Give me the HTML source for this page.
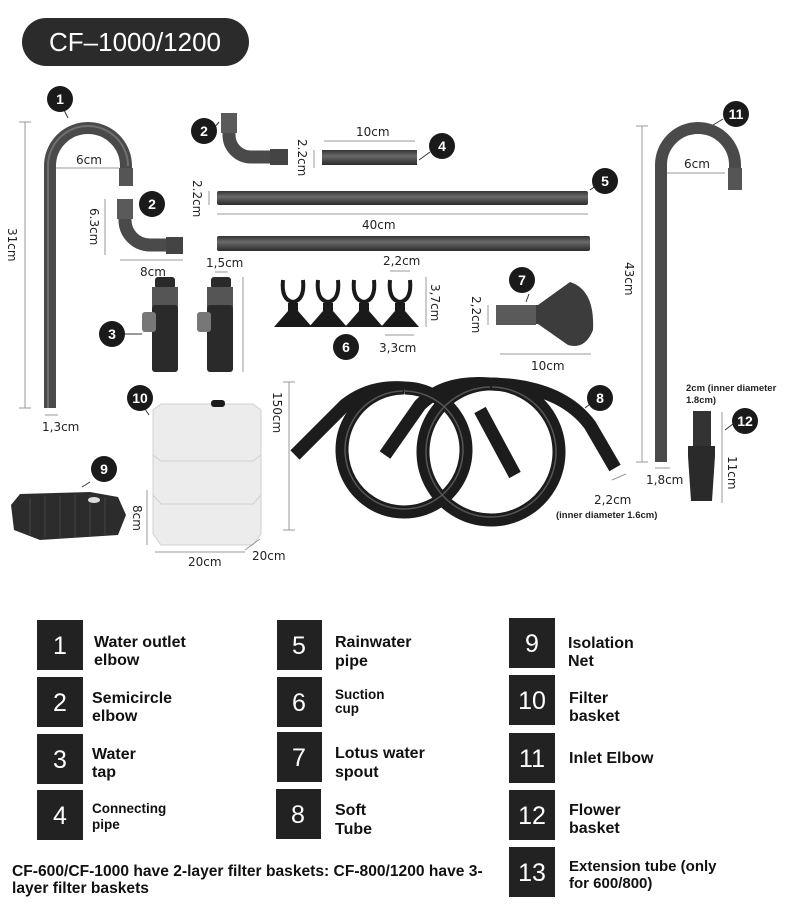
<!DOCTYPE html>
<html><head><meta charset="utf-8"><style>
html,body{margin:0;padding:0;background:#fff}
svg{display:block}
.t{font-family:"DejaVu Sans","Liberation Sans",sans-serif;font-size:12px;fill:#222}
.n{font-family:"Liberation Sans",sans-serif;font-weight:bold;font-size:14px;fill:#fff;text-anchor:middle}
.L{font-family:"Liberation Sans Narrow","Liberation Sans",sans-serif;font-weight:bold;fill:#111}
.B{font-family:"Liberation Sans Narrow","Liberation Sans",sans-serif;fill:#fff;text-anchor:middle;font-size:25px}
.d{stroke:#999;stroke-width:1;fill:none}
</style></head><body>
<svg width="790" height="911" viewBox="0 0 790 911" xmlns="http://www.w3.org/2000/svg">
<defs>
<linearGradient id="pv" x1="0" x2="1" y1="0" y2="0"><stop offset="0" stop-color="#3a3a3a"/><stop offset=".4" stop-color="#777"/><stop offset="1" stop-color="#333"/></linearGradient>
<linearGradient id="ph" x1="0" x2="0" y1="0" y2="1"><stop offset="0" stop-color="#333"/><stop offset=".4" stop-color="#6a6a6a"/><stop offset="1" stop-color="#2a2a2a"/></linearGradient>
</defs>
<rect width="790" height="911" fill="#fff"/>
<!-- title -->
<rect x="22" y="18" width="227" height="48" rx="24" fill="#2b2b2b"/>
<text x="135" y="51" fill="#fff" font-family="Liberation Sans,sans-serif" font-size="26" text-anchor="middle">CF–1000/1200</text>

<!-- pipe 1 -->
<path d="M50 408 V166 A38 38 0 0 1 126 166 V180" stroke="#4a4a4a" stroke-width="12" fill="none"/>
<path d="M48 408 V166 A40 40 0 0 1 128 166" stroke="#888" stroke-width="2" fill="none" opacity=".6"/>
<rect x="119" y="168" width="14" height="18" fill="#555"/>
<line x1="25" y1="122" x2="25" y2="408" class="d"/><line x1="19" y1="122" x2="31" y2="122" class="d"/><line x1="19" y1="408" x2="31" y2="408" class="d"/>
<text class="t" transform="translate(8,228) rotate(90)">31cm</text>
<line x1="56" y1="168" x2="119" y2="168" class="d"/><text class="t" x="76" y="164">6cm</text>
<line x1="45" y1="415" x2="58" y2="415" class="d"/><text class="t" x="42" y="431">1,3cm</text>
<line x1="68" y1="118" x2="63" y2="108" stroke="#333"/>
<circle cx="60" cy="99" r="13" fill="#1a1a1a"/><text class="n" x="60" y="104">1</text>

<!-- elbow 2 small -->
<path d="M125 205 V220 A25 25 0 0 0 150 245 H180" stroke="#4a4a4a" stroke-width="13" fill="none"/>
<rect x="117" y="199" width="16" height="20" fill="#5a5a5a"/><rect x="166" y="237" width="17" height="17" fill="#444"/>
<line x1="105" y1="199" x2="105" y2="255" class="d"/><text class="t" transform="translate(90,208) rotate(90)">6.3cm</text>
<line x1="120" y1="260" x2="183" y2="260" class="d"/><text class="t" x="140" y="276">8cm</text>
<circle cx="152" cy="204" r="13" fill="#1a1a1a"/><text class="n" x="152" y="209">2</text>

<!-- elbow 2 top -->
<path d="M229 118 V135 A22 22 0 0 0 251 157 H285" stroke="#4a4a4a" stroke-width="13" fill="none"/>
<rect x="221" y="113" width="16" height="20" fill="#5a5a5a"/><rect x="270" y="149" width="18" height="16" fill="#444"/>
<line x1="219" y1="122" x2="214" y2="128" stroke="#333"/>
<circle cx="204" cy="131" r="13" fill="#1a1a1a"/><text class="n" x="204" y="136">2</text>

<!-- pipe 4 -->
<line x1="314" y1="150" x2="314" y2="168" class="d"/><text class="t" transform="translate(298,139) rotate(90)">2.2cm</text>
<line x1="324" y1="141" x2="415" y2="141" class="d"/><text class="t" x="356" y="136">10cm</text>
<rect x="322" y="150" width="95" height="15" fill="url(#ph)"/>
<line x1="419" y1="160" x2="430" y2="152" stroke="#333"/>
<circle cx="442" cy="146" r="13" fill="#1a1a1a"/><text class="n" x="442" y="151">4</text>

<!-- pipe 5 -->
<rect x="217" y="191" width="371" height="14" rx="2" fill="url(#ph)"/>
<rect x="217" y="236" width="373" height="15" rx="2" fill="url(#ph)"/>
<line x1="209" y1="191" x2="209" y2="205" class="d"/><text class="t" transform="translate(193,180) rotate(90)">2.2cm</text>
<line x1="217" y1="214" x2="588" y2="214" class="d"/><text class="t" x="362" y="229">40cm</text>
<line x1="590" y1="190" x2="597" y2="185" stroke="#333"/>
<circle cx="605" cy="181" r="13" fill="#1a1a1a"/><text class="n" x="605" y="186">5</text>

<!-- taps 3 -->
<g fill="#2a2a2a">
<rect x="155" y="277" width="20" height="12" rx="3"/><rect x="152" y="287" width="26" height="20" fill="#555"/><rect x="152" y="305" width="26" height="67" rx="3"/><rect x="142" y="312" width="14" height="20" rx="3" fill="#777"/>
<rect x="211" y="277" width="20" height="12" rx="3"/><rect x="207" y="287" width="26" height="20" fill="#555"/><rect x="207" y="305" width="26" height="67" rx="3"/><rect x="197" y="312" width="14" height="20" rx="3" fill="#777"/>
</g>
<text class="t" x="206" y="267">1,5cm</text><line x1="215" y1="272" x2="228" y2="272" class="d"/>
<line x1="243" y1="277" x2="243" y2="372" class="d"/>
<line x1="125" y1="334" x2="142" y2="334" stroke="#333"/>
<circle cx="112" cy="334" r="13" fill="#1a1a1a"/><text class="n" x="112" y="339">3</text>

<!-- suction cups 6 -->
<g fill="none" stroke="#1a1a1a" stroke-width="4">
<path d="M283 280 Q281 300 293 302 Q305 300 303 280"/><path d="M318 280 Q316 300 328 302 Q340 300 338 280"/><path d="M354 280 Q352 300 364 302 Q376 300 374 280"/><path d="M390 280 Q388 300 400 302 Q412 300 410 280"/>
</g>
<g fill="#1a1a1a">
<path d="M288 303 h10 v8 l14 16 h-38 l14 -16z"/><path d="M323 303 h10 v8 l14 16 h-38 l14 -16z"/><path d="M359 303 h10 v8 l14 16 h-38 l14 -16z"/><path d="M395 303 h10 v8 l14 16 h-38 l14 -16z"/>
</g>
<text class="t" x="383" y="265">2,2cm</text><line x1="390" y1="271" x2="410" y2="271" class="d"/>
<line x1="426" y1="277" x2="426" y2="327" class="d"/><text class="t" transform="translate(431,284) rotate(90)">3,7cm</text>
<line x1="385" y1="335" x2="414" y2="335" class="d"/><text class="t" x="379" y="352">3,3cm</text>
<circle cx="346" cy="347" r="13" fill="#1a1a1a"/><text class="n" x="346" y="352">6</text>

<!-- lotus 7 -->
<path d="M497 305 H538 L570 282 Q595 290 593 330 Q585 350 568 345 L538 324 H497 Z" fill="#3c3c3c"/>
<rect x="496" y="305" width="40" height="20" fill="#5a5a5a"/>
<line x1="488" y1="305" x2="488" y2="325" class="d"/><text class="t" transform="translate(472,296) rotate(90)">2,2cm</text>
<line x1="500" y1="354" x2="591" y2="354" class="d"/><text class="t" x="531" y="370">10cm</text>
<line x1="529" y1="294" x2="526" y2="302" stroke="#333"/>
<circle cx="522" cy="280" r="13" fill="#1a1a1a"/><text class="n" x="522" y="285">7</text>

<!-- pipe 11 -->
<path d="M661 462 V165 A37 37 0 0 1 735 165 V185" stroke="#4a4a4a" stroke-width="12" fill="none"/>
<rect x="728" y="168" width="14" height="22" fill="#555"/>
<line x1="642" y1="126" x2="642" y2="462" class="d"/><line x1="636" y1="126" x2="648" y2="126" class="d"/><line x1="636" y1="462" x2="648" y2="462" class="d"/>
<text class="t" transform="translate(625,262) rotate(90)">43cm</text>
<line x1="667" y1="173" x2="725" y2="173" class="d"/><text class="t" x="684" y="168">6cm</text>
<line x1="655" y1="468" x2="670" y2="468" class="d"/><text class="t" x="646" y="484">1,8cm</text>
<line x1="713" y1="125" x2="723" y2="119" stroke="#333"/>
<circle cx="736" cy="114" r="13" fill="#1a1a1a"/><text class="n" x="736" y="119">11</text>

<!-- 12 -->
<rect x="693" y="411" width="18" height="35" fill="#333"/>
<path d="M688 446 h27 v10 l-3 45 h-21 l-3 -45z" fill="#2a2a2a"/>
<text x="686" y="391" font-family="Liberation Sans,sans-serif" font-weight="bold" font-size="9.5" fill="#222">2cm (inner diameter</text>
<text x="686" y="403" font-family="Liberation Sans,sans-serif" font-weight="bold" font-size="9.5" fill="#222">1.8cm)</text>
<line x1="722" y1="412" x2="722" y2="503" class="d"/><text class="t" transform="translate(728,456) rotate(90)">11cm</text>
<line x1="725" y1="430" x2="733" y2="424" stroke="#333"/>
<circle cx="745" cy="421" r="13" fill="#1a1a1a"/><text class="n" x="745" y="426">12</text>

<!-- tube 8 -->
<g fill="none" stroke="#1c1c1c" stroke-width="13" stroke-linecap="butt">
<path d="M295 455 L345 405 Q370 385 405 388"/>
<path d="M405 388 A62 62 0 1 1 403 388"/>
<path d="M385 455 L420 405 Q445 380 490 384"/>
<path d="M492 384 A68 68 0 1 1 490 384"/>
<path d="M480 410 L515 475"/>
<path d="M490 384 Q560 385 590 425 L615 468"/>
</g>
<g fill="none" stroke="#555" stroke-width="1.5">
<path d="M405 391 A59 59 0 1 1 403 391"/><path d="M492 387 A65 65 0 1 1 490 387"/>
</g>
<line x1="289" y1="382" x2="289" y2="530" class="d"/><line x1="283" y1="382" x2="295" y2="382" class="d"/><line x1="283" y1="530" x2="295" y2="530" class="d"/>
<text class="t" transform="translate(273,392) rotate(90)">150cm</text>
<line x1="612" y1="480" x2="626" y2="474" class="d"/>
<text class="t" x="594" y="504">2,2cm</text>
<text x="556" y="518" font-family="Liberation Sans,sans-serif" font-weight="bold" font-size="9.5" fill="#222">(inner diameter 1.6cm)</text>
<line x1="585" y1="408" x2="590" y2="404" stroke="#333"/>
<circle cx="600" cy="398" r="13" fill="#1a1a1a"/><text class="n" x="600" y="403">8</text>

<!-- filter basket 10 -->
<g fill="#ececec" stroke="#d0d0d0">
<path d="M153 492 h108 v42 l-8 11 h-92 l-8 -11z"/>
<path d="M153 455 h108 v40 l-8 9 h-92 l-8 -9z"/>
<path d="M153 410 l8 -6 h92 l8 6 v45 l-8 6 h-92 l-8 -6z"/>
</g>
<rect x="211" y="400" width="14" height="7" rx="3" fill="#1a1a1a"/>
<line x1="147" y1="490" x2="147" y2="545" class="d"/><text class="t" transform="translate(133,505) rotate(90)">8cm</text>
<line x1="155" y1="552" x2="245" y2="552" class="d"/><line x1="245" y1="550" x2="260" y2="539" class="d"/>
<text class="t" x="188" y="566">20cm</text><text class="t" x="252" y="560">20cm</text>
<line x1="149" y1="415" x2="145" y2="409" stroke="#333"/>
<circle cx="140" cy="398" r="13" fill="#1a1a1a"/><text class="n" x="140" y="403">10</text>

<!-- net 9 -->
<path d="M20 494 L90 492 L118 497 L126 515 L118 535 L40 540 L14 530 L11 505Z" fill="#2c2c2c"/>
<g stroke="#444" stroke-width="1"><line x1="30" y1="498" x2="30" y2="535"/><line x1="45" y1="496" x2="45" y2="537"/><line x1="60" y1="496" x2="60" y2="537"/><line x1="75" y1="495" x2="75" y2="537"/><line x1="90" y1="495" x2="90" y2="536"/><line x1="105" y1="497" x2="105" y2="535"/></g>
<ellipse cx="94" cy="500" rx="6" ry="3" fill="#ddd"/>
<line x1="82" y1="487" x2="90" y2="482" stroke="#333"/>
<circle cx="104" cy="469" r="13" fill="#1a1a1a"/><text class="n" x="104" y="474">9</text>

<!-- legend -->
<g fill="#222">
<rect x="37" y="620" width="46" height="50"/><rect x="37" y="677" width="46" height="50"/><rect x="37" y="734" width="46" height="50"/><rect x="37" y="790" width="46" height="50"/>
<rect x="277" y="620" width="45" height="50"/><rect x="277" y="677" width="45" height="50"/><rect x="277" y="732" width="45" height="50"/><rect x="276" y="789" width="45" height="50"/>
<rect x="509" y="618" width="46" height="50"/><rect x="509" y="675" width="46" height="50"/><rect x="509" y="733" width="46" height="50"/><rect x="509" y="790" width="46" height="50"/><rect x="509" y="847" width="46" height="50"/>
</g>
<g class="B">
<text x="60" y="654">1</text><text x="60" y="711">2</text><text x="60" y="768">3</text><text x="60" y="824">4</text>
<text x="299" y="654">5</text><text x="299" y="711">6</text><text x="299" y="766">7</text><text x="298" y="823">8</text>
<text x="532" y="652">9</text><text x="532" y="709">10</text><text x="532" y="767">11</text><text x="532" y="824">12</text><text x="532" y="881">13</text>
</g>
<g class="L" font-size="16">
<text x="94" y="647">Water outlet</text><text x="94" y="665">elbow</text>
<text x="92" y="703">Semicircle</text><text x="92" y="721">elbow</text>
<text x="92" y="759">Water</text><text x="92" y="777">tap</text>
<text x="335" y="647">Rainwater</text><text x="335" y="666">pipe</text>
<text x="335" y="758">Lotus water</text><text x="335" y="777">spout</text>
<text x="335" y="815">Soft</text><text x="335" y="834">Tube</text>
<text x="568" y="648">Isolation</text><text x="568" y="666">Net</text>
<text x="569" y="703">Filter</text><text x="569" y="721">basket</text>
<text x="569" y="763">Inlet Elbow</text>
<text x="569" y="815">Flower</text><text x="569" y="833">basket</text>
</g>
<g class="L" font-size="13.5">
<text x="92" y="813">Connecting</text><text x="92" y="829">pipe</text>
<text x="335" y="699">Suction</text><text x="335" y="713">cup</text>
</g>
<g class="L" font-size="15">
<text x="569" y="871">Extension tube (only</text><text x="569" y="888">for 600/800)</text>
</g>
<g class="L" font-size="15.6">
<text x="12" y="876">CF-600/CF-1000 have 2-layer filter baskets: CF-800/1200 have 3-</text>
<text x="12" y="893">layer filter baskets</text>
</g>
</svg>
</body></html>
